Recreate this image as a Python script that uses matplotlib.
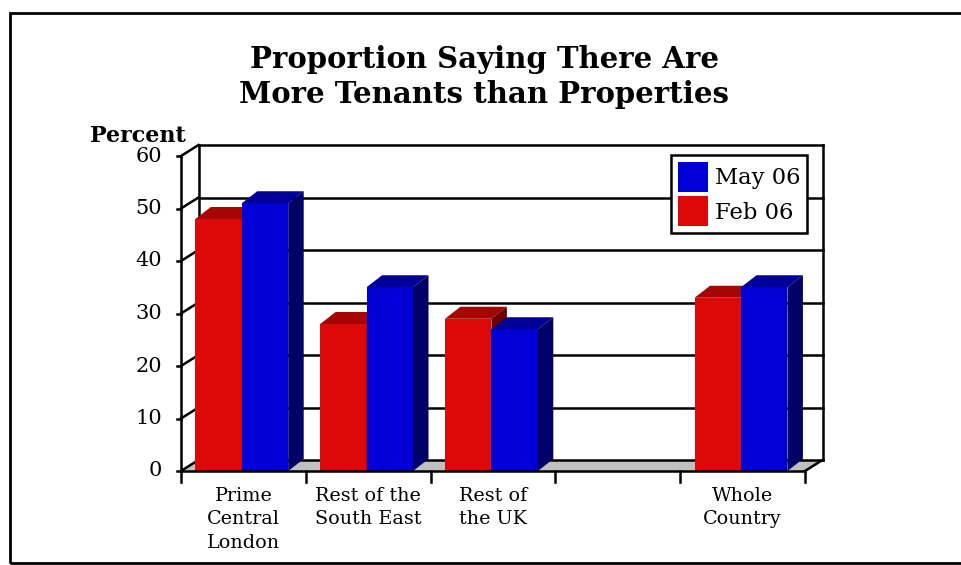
import matplotlib
matplotlib.use("Agg")
import matplotlib.pyplot as plt
from matplotlib.patches import Polygon, Rectangle, Patch

# ---- data ----
categories = ["Prime\nCentral\nLondon", "Rest of the\nSouth East", "Rest of\nthe UK", "", "Whole\nCountry"]
feb_06 = [48, 28, 29, None, 33]
may_06 = [51, 35, 27, None, 35]
y_ticks = [0, 10, 20, 30, 40, 50, 60]
series_labels = ["May 06", "Feb 06"]
title = "Proportion Saying There Are\nMore Tenants than Properties"
y_label = "Percent"

plt.rcParams["font.family"] = "DejaVu Serif"

RED = ("#dd0808", "#a60505", "#6c0000")    # front, top, side
BLUE = ("#0000d6", "#000099", "#000066")
FLOOR = "#c0c0c0"
LW = 1.8

W, H = 961, 565
fig = plt.figure(figsize=(W / 100, H / 100), dpi=100)

# front plane of the 3-D box, in pixels
x0, x1, yb, yt = 181, 805, 471, 156
ax = fig.add_axes([x0 / W, (H - yb) / H, (x1 - x0) / W, (yb - yt) / H])
ncat = len(categories)
ymax = y_ticks[-1]
ax.set_xlim(0, ncat)
ax.set_ylim(0, ymax)
ax.axis("off")

sx = ncat / (x1 - x0)      # data units per pixel
sy = ymax / (yb - yt)

wdx, wdy = 17.5 * sx, 11 * sy   # depth of the box walls
bdx, bdy = 15.5 * sx, 12 * sy   # depth of the bars


def line(xs, ys, z=2):
    ax.plot(xs, ys, color="black", lw=LW, clip_on=False, zorder=z,
            solid_capstyle="projecting")


# floor
ax.add_patch(Polygon([(0, 0), (ncat, 0), (ncat + wdx, wdy), (wdx, wdy)],
                     closed=True, fc=FLOOR, ec="none", clip_on=False, zorder=1))

# back wall grid and edges, left wall lines, value ticks
for t in y_ticks:
    line([wdx, ncat + wdx], [t + wdy, t + wdy])
    line([0, wdx], [t, t + wdy])
    line([-4 * sx, 0], [t, t])
    ax.text(-19 * sx, t, str(t), ha="right", va="center", fontsize=15)
line([wdx, wdx], [wdy, ymax + wdy])
line([ncat + wdx, ncat + wdx], [wdy, ymax + wdy])
line([0, 0], [0, ymax])


def bar3d(x, w, h, cols):
    front, top, side = cols
    ax.add_patch(Rectangle((x, 0), w, h, fc=front, ec="none", clip_on=False, zorder=3))
    ax.add_patch(Polygon([(x, h), (x + w, h), (x + w + bdx, h + bdy), (x + bdx, h + bdy)],
                         closed=True, fc=top, ec="none", clip_on=False, zorder=3))
    ax.add_patch(Polygon([(x + w, 0), (x + w + bdx, bdy), (x + w + bdx, h + bdy), (x + w, h)],
                         closed=True, fc=side, ec="none", clip_on=False, zorder=3))


bw = 0.372
for i, (f, m) in enumerate(zip(feb_06, may_06)):
    if f is not None:
        bar3d(i + 0.115, bw, f, RED)
    if m is not None:
        bar3d(i + 0.115 + bw, bw, m, BLUE)

# front floor edge and category ticks
line([0, ncat], [0, 0], z=5)
line([ncat, ncat + wdx], [0, wdy], z=5)
for k in range(ncat + 1):
    line([k, k], [0, -11 * sy], z=5)

for i, cat in enumerate(categories):
    ax.text(i + 0.5, -16 * sy, cat, ha="center", va="top", fontsize=13.8,
            linespacing=1.38)

fig.text(186 / W, 1 - 142 / H, y_label, ha="right", va="baseline",
         fontsize=16, fontweight="bold")
fig.text(484 / W, 1 - 77 / H, title, ha="center", va="center",
         fontsize=21, fontweight="bold", linespacing=1.25)

handles = [Patch(fc=BLUE[0], ec="none"), Patch(fc=RED[0], ec="none")]
leg = fig.legend(handles, series_labels, loc="upper left",
                 bbox_to_anchor=(671 / W, 1 - 155 / H), bbox_transform=fig.transFigure,
                 borderaxespad=0, frameon=True, fancybox=False, edgecolor="black",
                 framealpha=1, fontsize=16.3, handlelength=1.33, handleheight=1.66,
                 handletextpad=0.3, labelspacing=0.2, borderpad=0.3)
leg.get_frame().set_linewidth(LW)

# outer frame
fig.add_artist(Rectangle((10 / W, 1 - 563 / H), 980 / W, 550 / H,
                         transform=fig.transFigure, fill=False, ec="black", lw=2))

fig.savefig("out.png", dpi=100)
